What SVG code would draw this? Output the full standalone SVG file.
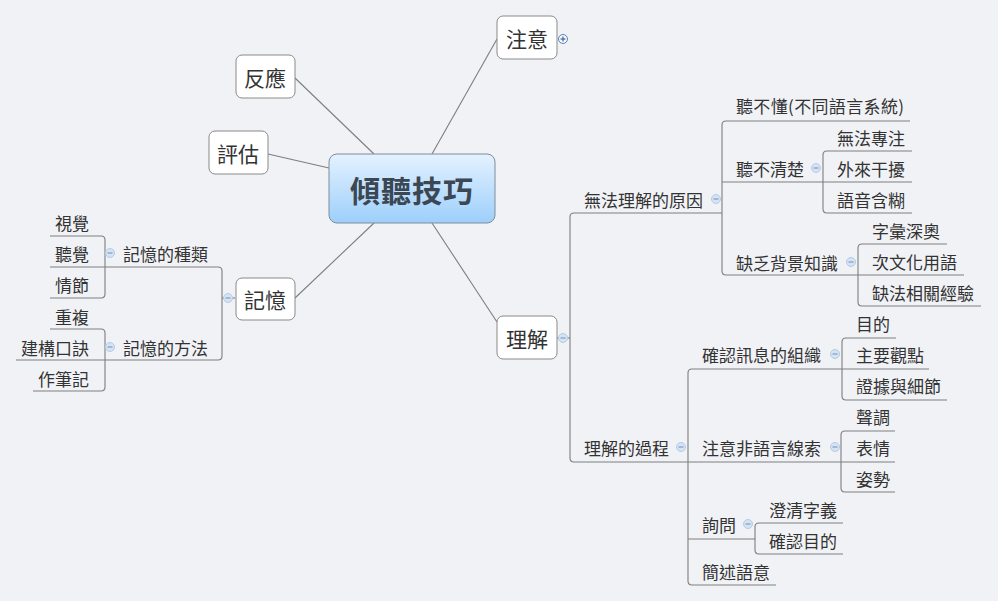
<svg xmlns="http://www.w3.org/2000/svg" width="998" height="601" viewBox="0 0 998 601">
<defs>
<linearGradient id="cg" x1="0" y1="0" x2="0" y2="1">
<stop offset="0" stop-color="#e4f2ff"/>
<stop offset="1" stop-color="#9dcffb"/>
</linearGradient>
<g id="minus"><circle r="4.5" fill="#d5e3f3" stroke="#b4cbe6" stroke-width="1"/><line x1="-2.5" y1="0" x2="2.5" y2="0" stroke="#6d8fbf" stroke-width="1"/></g>
<g id="plus"><circle r="4.5" fill="#f4f8fc" stroke="#5f82b4" stroke-width="1"/><line x1="-2.5" y1="0" x2="2.5" y2="0" stroke="#3d659e" stroke-width="1.2"/><line x1="0" y1="-2.5" x2="0" y2="2.5" stroke="#3d659e" stroke-width="1.2"/></g>
</defs>
<style>
text{font-family:"Noto Sans CJK TC","Noto Sans CJK SC",sans-serif;fill:#333;dominant-baseline:central}
.sub{font-size:17px}
.l{text-anchor:end}
.main{font-size:21px;text-anchor:middle;fill:#333}
.ctr{font-size:30px;font-weight:bold;text-anchor:middle;fill:#3b4753;letter-spacing:1px}
.box{fill:#fff;stroke:#8a8a8a;stroke-width:1}
.ln{fill:none;stroke:#7e7e7e;stroke-width:1.1}
</style>
<rect width="998" height="601" fill="#f1f2f6"/>

<g id="connectors" class="ln">
<path d="M374,154 L295,78"/>
<path d="M329,168 L268,154"/>
<path d="M432,154 L497,39"/>
<path d="M374,223 L295,298"/>
<path d="M432,223 L497,322"/>
<!-- memory -->
<path d="M235,298 H222"/>
<path d="M105,267 H218 Q222,267 222,271 V298"/>
<path d="M16,360 H218 Q222,360 222,356 V298"/>
<path d="M50,236 H101 Q105,236 105,240 V294 Q105,298 101,298 H50"/>
<path d="M50,267 H105"/>
<path d="M50,329 H101 Q105,329 105,333 V387 Q105,391 101,391 H33"/>
<!-- understanding -->
<path d="M557,338 H570"/>
<path d="M722,213 H574 Q570,213 570,217 V458 Q570,462 574,462 H688"/>
<path d="M910,121 H726 Q722,121 722,125 V271 Q722,275 726,275 H858"/>
<path d="M722,182 H912"/>
<path d="M912,151 H827 Q823,151 823,155 V209 Q823,213 827,213 H912"/>
<path d="M947,244 H862 Q858,244 858,248 V302 Q858,306 862,306 H981"/>
<path d="M858,275 H964"/>
<path d="M842,369 H692 Q688,369 688,373 V581 Q688,585 692,585 H776"/>
<path d="M688,462 H895"/>
<path d="M688,539 H755"/>
<path d="M896,338 H846 Q842,338 842,342 V396 Q842,400 846,400 H947"/>
<path d="M842,369 H929"/>
<path d="M895,431 H845 Q841,431 841,435 V488 Q841,492 845,492 H895"/>
<path d="M843,523 H759 Q755,523 755,527 V550 Q755,554 759,554 H843"/>
</g>

<g id="center">
<rect x="329" y="154" width="166" height="69" rx="8" fill="url(#cg)" stroke="#7f8c99" stroke-width="1"/>
<text class="ctr" x="412" y="189">傾聽技巧</text>
</g>
<g id="n-attention">
<rect class="box" x="497" y="16" width="60" height="43" rx="6"/>
<text class="main" x="527" y="38">注意</text>
<use href="#plus" x="563" y="39"/>
</g>
<g id="n-response">
<rect class="box" x="236" y="55" width="59" height="43" rx="6"/>
<text class="main" x="265" y="77">反應</text>
</g>
<g id="n-evaluate">
<rect class="box" x="209" y="131" width="59" height="43" rx="6"/>
<text class="main" x="238" y="153">評估</text>
</g>
<g id="n-memory">
<rect class="box" x="236" y="278" width="59" height="42" rx="6"/>
<text class="main" x="265" y="299">記憶</text>
<use href="#minus" x="228" y="298"/>
</g>
<g id="n-understand">
<rect class="box" x="497" y="316" width="60" height="43" rx="6"/>
<text class="main" x="527" y="338">理解</text>
<use href="#minus" x="563" y="338"/>
</g>

<g id="memory-types">
<text class="sub l" x="208" y="253">記憶的種類</text>
<use href="#minus" x="110" y="253"/>
</g>
<g id="n-visual"><text class="sub l" x="89" y="222">視覺</text></g>
<g id="n-audio"><text class="sub l" x="89" y="253">聽覺</text></g>
<g id="n-episode"><text class="sub l" x="89" y="284">情節</text></g>
<g id="memory-methods">
<text class="sub l" x="208" y="347">記憶的方法</text>
<use href="#minus" x="110" y="347"/>
</g>
<g id="n-repeat"><text class="sub l" x="89" y="316">重複</text></g>
<g id="n-mnemonic"><text class="sub l" x="89" y="347">建構口訣</text></g>
<g id="n-notes"><text class="sub l" x="89" y="378">作筆記</text></g>

<g id="reasons">
<text class="sub" x="584" y="199">無法理解的原因</text>
<use href="#minus" x="716" y="199"/>
</g>
<g id="n-lang"><text class="sub" x="736" y="105" textLength="168" lengthAdjust="spacing">聽不懂(不同語言系統)</text></g>
<g id="n-unclear">
<text class="sub" x="736" y="168">聽不清楚</text>
<use href="#minus" x="816" y="168"/>
</g>
<g id="n-focus"><text class="sub" x="837" y="137">無法專注</text></g>
<g id="n-noise"><text class="sub" x="837" y="168">外來干擾</text></g>
<g id="n-vague"><text class="sub" x="837" y="199">語音含糊</text></g>
<g id="n-background">
<text class="sub" x="736" y="262">缺乏背景知識</text>
<use href="#minus" x="851" y="262"/>
</g>
<g id="n-vocab"><text class="sub" x="872" y="230">字彙深奧</text></g>
<g id="n-subculture"><text class="sub" x="872" y="261">次文化用語</text></g>
<g id="n-experience"><text class="sub" x="872" y="292">缺法相關經驗</text></g>

<g id="process">
<text class="sub" x="584" y="447">理解的過程</text>
<use href="#minus" x="681" y="447"/>
</g>
<g id="n-organize">
<text class="sub" x="702" y="354">確認訊息的組織</text>
<use href="#minus" x="835" y="354"/>
</g>
<g id="n-purpose"><text class="sub" x="856" y="323">目的</text></g>
<g id="n-mainpoint"><text class="sub" x="856" y="354">主要觀點</text></g>
<g id="n-evidence"><text class="sub" x="856" y="385">證據與細節</text></g>
<g id="n-nonverbal">
<text class="sub" x="702" y="447">注意非語言線索</text>
<use href="#minus" x="835" y="447"/>
</g>
<g id="n-tone"><text class="sub" x="856" y="416">聲調</text></g>
<g id="n-face"><text class="sub" x="856" y="447">表情</text></g>
<g id="n-posture"><text class="sub" x="856" y="478">姿勢</text></g>
<g id="n-ask">
<text class="sub" x="702" y="524">詢問</text>
<use href="#minus" x="748" y="524"/>
</g>
<g id="n-clarify"><text class="sub" x="769" y="509">澄清字義</text></g>
<g id="n-confirm"><text class="sub" x="769" y="540">確認目的</text></g>
<g id="n-summary"><text class="sub" x="702" y="571">簡述語意</text></g>
</svg>
